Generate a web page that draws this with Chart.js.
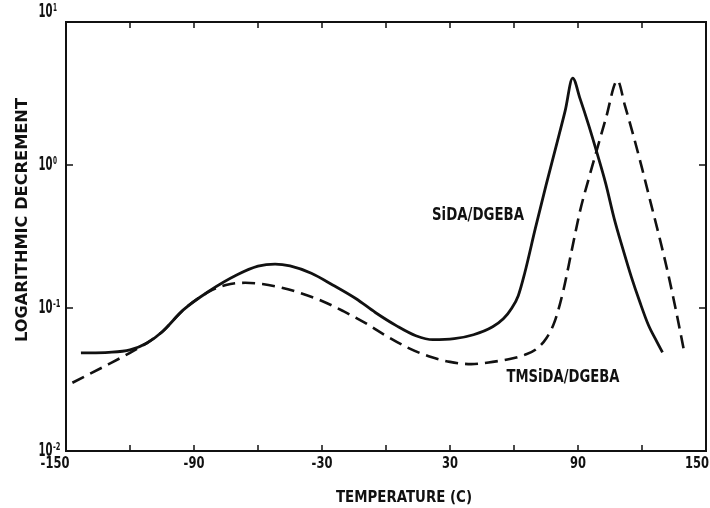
<!DOCTYPE html>
<html>
<head>
<meta charset="utf-8">
<script src="https://cdn.jsdelivr.net/npm/chart.js@4/dist/chart.umd.min.js"></script>
<style>
html, body { margin: 0; padding: 0; background: #fff; }
</style>
</head>
<body>
<canvas id="chartDecrement" width="710" height="508"></canvas>
<script>
// SiDA/DGEBA (solid)
var siTemps  = [-143, -130, -120, -112, -105, -95, -83, -70, -60, -52, -45, -35, -25, -14, -5, 5, 14, 22, 32, 41, 50, 55, 59, 62, 65, 70, 75, 80, 84, 87.5, 91, 95, 99, 103, 107, 111, 115, 119, 123, 127, 129.6];
var siValues = [0.0485, 0.049, 0.051, 0.057, 0.068, 0.097, 0.131, 0.170, 0.196, 0.203, 0.197, 0.175, 0.145, 0.116, 0.093, 0.075, 0.064, 0.060, 0.061, 0.065, 0.074, 0.084, 0.100, 0.122, 0.175, 0.36, 0.72, 1.4, 2.4, 4.05, 2.9, 1.9, 1.2, 0.74, 0.42, 0.26, 0.165, 0.11, 0.076, 0.058, 0.049];

// TMSiDA/DGEBA (dashed)
var tmTemps  = [-147, -130, -120, -112, -105, -95, -83, -75, -66, -58, -50, -42, -30, -20, -10, 0, 10, 20, 30, 40, 50, 58, 65, 70, 75, 79, 83, 87, 91, 95, 99, 103, 108.5, 112, 116, 120, 124, 128, 132, 136, 139.5];
var tmValues = [0.030, 0.0405, 0.0486, 0.057, 0.068, 0.097, 0.13, 0.145, 0.150, 0.147, 0.140, 0.130, 0.112, 0.095, 0.079, 0.064, 0.053, 0.046, 0.042, 0.0405, 0.042, 0.044, 0.047, 0.051, 0.061, 0.08, 0.13, 0.25, 0.48, 0.8, 1.3, 2.1, 3.9, 2.6, 1.6, 0.95, 0.55, 0.32, 0.18, 0.095, 0.052];

var xLabels = [-150, -90, -30, 30, 90, 150];
var xTicks  = [-120, -90, -60, -30, 0, 30, 60, 90, 120];
var yTicks  = [10, 1, 0.1, 0.01];
var yExps   = ['1', '0', '-1', '-2'];

var FONT = '"Liberation Sans Narrow", "DejaVu Sans Condensed", "Liberation Sans", sans-serif';
var INK = '#111';

function toPoints(xs, ys) {
	return xs.map(function(x, i) { return { x: x, y: ys[i] }; });
}

// bold text squeezed to a given width, centred on (cx, cy)
function fitText(ctx, str, cx, cy, width, size, vertical) {
	ctx.save();
	ctx.translate(cx, cy);
	if (vertical) ctx.rotate(-Math.PI / 2);
	ctx.font = 'bold ' + size + 'px ' + FONT;
	var w = ctx.measureText(str).width;
	ctx.scale(width / w, 1);
	ctx.textAlign = 'center';
	ctx.textBaseline = 'alphabetic';
	ctx.fillText(str, 0, size * 0.36);
	ctx.restore();
}

var decorations = {
	id: 'decorations',
	afterDraw: function(chart) {
		var ctx = chart.ctx, a = chart.chartArea;
		var xs = chart.scales.x, ys = chart.scales.y;
		ctx.save();
		ctx.strokeStyle = INK;
		ctx.fillStyle = INK;
		ctx.lineWidth = 2;
		ctx.strokeRect(a.left, a.top, a.right - a.left, a.bottom - a.top);

		// inward ticks
		ctx.lineWidth = 1.5;
		ctx.beginPath();
		xTicks.forEach(function(v) {
			var px = xs.getPixelForValue(v);
			ctx.moveTo(px, a.bottom); ctx.lineTo(px, a.bottom - 6);
			ctx.moveTo(px, a.top); ctx.lineTo(px, a.top + 6);
		});
		[1, 0.1].forEach(function(v) {
			var py = ys.getPixelForValue(v);
			ctx.moveTo(a.left, py); ctx.lineTo(a.left + 7, py);
			ctx.moveTo(a.right, py); ctx.lineTo(a.right - 7, py);
		});
		ctx.stroke();

		// x tick labels
		ctx.font = 'bold 16px ' + FONT;
		var sx = 16 / ctx.measureText('90').width;
		xLabels.forEach(function(v) {
			var str = String(v);
			var px = xs.getPixelForValue(v);
			if (v === -150) px -= 11;
			if (v === 150) px -= 9;
			var w = ctx.measureText(str).width * sx;
			fitText(ctx, str, px, 462, w, 16, false);
		});

		// y tick labels: 10 with superscript exponent
		yTicks.forEach(function(v, i) {
			var py = ys.getPixelForValue(v) - 2;
			if (v === 10) py = 10;
			fitText(ctx, '10', 45.5, py, 14, 19, false);
			ctx.save();
			ctx.font = 'bold 10px ' + FONT;
			ctx.textAlign = 'left';
			ctx.textBaseline = 'alphabetic';
			var e = yExps[i];
			var ew = ctx.measureText(e).width;
			ctx.translate(53, py + 0.5);
			ctx.scale((e.length > 1 ? 7.5 : 4) / ew, 1);
			ctx.fillText(e, 0, 0);
			ctx.restore();
		});

		// axis titles
		fitText(ctx, 'TEMPERATURE (C)', 404, 496, 136, 16, false);
		fitText(ctx, 'LOGARITHMIC DECREMENT', 21, 220, 244, 16, true);

		// curve labels
		fitText(ctx, 'SiDA/DGEBA', 478, 214, 92, 17, false);
		fitText(ctx, 'TMSiDA/DGEBA', 563, 376, 113, 17, false);
		ctx.restore();
	}
};

var decrementChart = new Chart(document.getElementById('chartDecrement').getContext('2d'), {
	type: 'line',
	data: {
		datasets: [
			{
				label: 'SiDA/DGEBA',
				data: toPoints(siTemps, siValues),
				borderColor: INK,
				borderWidth: 2.8,
				pointRadius: 0,
				cubicInterpolationMode: 'monotone',
				fill: false
			},
			{
				label: 'TMSiDA/DGEBA',
				data: toPoints(tmTemps, tmValues),
				borderColor: INK,
				borderWidth: 2.6,
				borderDash: [13, 7],
				pointRadius: 0,
				cubicInterpolationMode: 'monotone',
				fill: false
			}
		]
	},
	plugins: [decorations],
	options: {
		responsive: false,
		animation: false,
		layout: { padding: { left: 0, right: 4, top: 22, bottom: 0 } },
		plugins: { legend: { display: false }, tooltip: { enabled: false } },
		scales: {
			x: {
				type: 'linear',
				min: -150,
				max: 150,
				grid: { display: false },
				border: { display: false },
				ticks: { display: false },
				afterFit: function(s) { s.height = 57; }
			},
			y: {
				type: 'logarithmic',
				min: 0.01,
				max: 10,
				grid: { display: false },
				border: { display: false },
				ticks: { display: false },
				afterFit: function(s) { s.width = 66; }
			}
		}
	}
});
</script>
</body>
</html>
